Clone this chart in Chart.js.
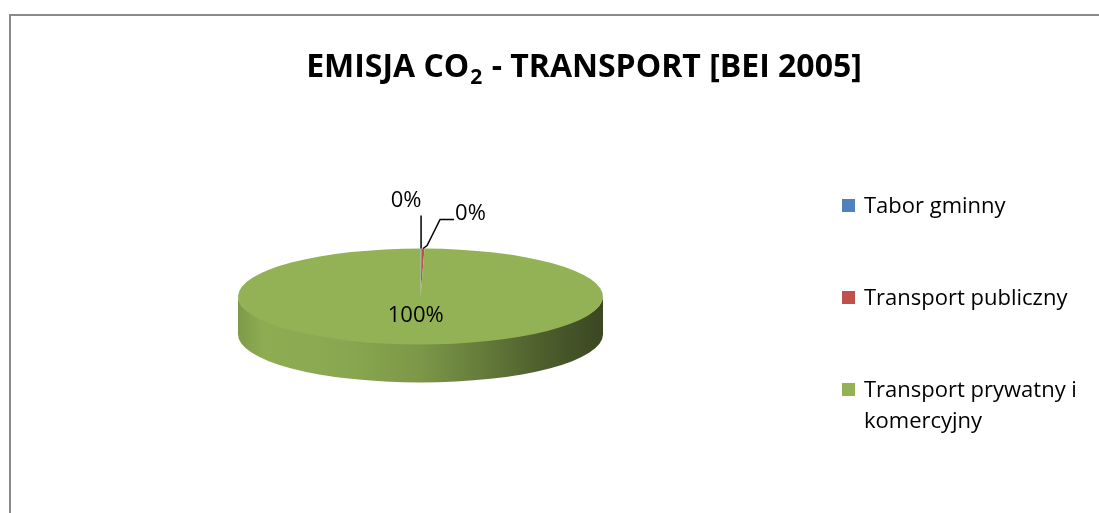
<!DOCTYPE html>
<html>
<head>
<meta charset="utf-8">
<script src="https://cdn.jsdelivr.net/npm/chart.js@4.4.1/dist/chart.umd.min.js"></script>
<style>
  html, body { margin: 0; padding: 0; background: #fff; }
  canvas { display: block; }
</style>
</head>
<body>
<canvas id="wykresCO2" width="1099" height="513"></canvas>
<script>
const kategorie = ['Tabor gminny', 'Transport publiczny', 'Transport prywatny i komercyjny'];
const udzialy = [0.1, 0.25, 99.65];
const kolory = ['#4f81bd', '#c0504d', '#92b255'];
const tytul = ['EMISJA CO', '2', ' - TRANSPORT [BEI 2005]'];

const splaszczenie = 0.263; // ry / rx
const glebokosc = 38;
const czcionka = '"Open Sans", sans-serif';

function cieniuj(hex, f) {
  const n = parseInt(hex.slice(1), 16);
  const r = Math.round(((n >> 16) & 255) * f);
  const g = Math.round(((n >> 8) & 255) * f);
  const b = Math.round((n & 255) * f);
  return `rgb(${r},${g},${b})`;
}

function geometria(chart) {
  const arc = chart.getDatasetMeta(0).data[0];
  return { cx: arc.x, cy: arc.y, r: arc.outerRadius, ry: arc.outerRadius * splaszczenie };
}

// ramka wykresu
const ramka = {
  id: 'ramka',
  beforeDraw(chart) {
    const ctx = chart.ctx;
    ctx.save();
    ctx.fillStyle = '#fff';
    ctx.fillRect(0, 0, chart.width, chart.height);
    ctx.strokeStyle = '#8a8a8a';
    ctx.lineWidth = 2;
    ctx.beginPath();
    ctx.moveTo(10, chart.height);
    ctx.lineTo(10, 15);
    ctx.lineTo(chart.width, 15);
    ctx.stroke();
    ctx.restore();
  }
};

// tytul z indeksem dolnym
const naglowek = {
  id: 'naglowek',
  afterDraw(chart) {
    const ctx = chart.ctx;
    const duza = 'bold 32px ' + czcionka;
    const mala = 'bold 21px ' + czcionka;
    ctx.save();
    ctx.font = duza;
    const w1 = ctx.measureText(tytul[0]).width;
    const w3 = ctx.measureText(tytul[2]).width;
    ctx.font = mala;
    const w2 = ctx.measureText(tytul[1]).width + 2;
    let x = 584 - (w1 + w2 + w3) / 2;
    const y = 77;
    ctx.fillStyle = '#000';
    ctx.textBaseline = 'alphabetic';
    ctx.font = duza;
    ctx.fillText(tytul[0], x, y);
    x += w1 + 1;
    ctx.font = mala;
    ctx.fillText(tytul[1], x, y + 7);
    x += w2 - 1;
    ctx.font = duza;
    ctx.fillText(tytul[2], x, y);
    ctx.restore();
  }
};

// bok 3D i splaszczenie tarczy
const tarcza3d = {
  id: 'tarcza3d',
  beforeDatasetsDraw(chart) {
    const ctx = chart.ctx;
    const { cx, cy, r, ry } = geometria(chart);
    chart.getDatasetMeta(0).data.forEach((arc, i) => {
      const a0 = Math.max(arc.startAngle, 0);
      const a1 = Math.min(arc.endAngle, Math.PI);
      if (a1 <= a0) return;
      const grad = ctx.createLinearGradient(cx - r, 0, cx + r, 0);
      const k = kolory[i];
      grad.addColorStop(0, cieniuj(k, 0.86));
      grad.addColorStop(0.07, cieniuj(k, 0.97));
      grad.addColorStop(0.3, cieniuj(k, 0.94));
      grad.addColorStop(0.5, cieniuj(k, 0.85));
      grad.addColorStop(0.66, cieniuj(k, 0.7));
      grad.addColorStop(0.82, cieniuj(k, 0.54));
      grad.addColorStop(1, cieniuj(k, 0.4));
      ctx.beginPath();
      // gorna krawedz boku lekko pod tarcza, zeby nie bylo szwu
      ctx.ellipse(cx, cy, r, ry - 2, 0, a0, a1);
      ctx.ellipse(cx, cy + glebokosc, r, ry, 0, a1, a0, true);
      ctx.closePath();
      ctx.fillStyle = grad;
      ctx.fill();
    });
    ctx.save();
    ctx.translate(cx, cy);
    ctx.scale(1, splaszczenie);
    ctx.translate(-cx, -cy);
  },
  afterDatasetsDraw(chart) {
    const ctx = chart.ctx;
    ctx.restore();

    // etykiety procentowe
    const { cx, cy, r, ry } = geometria(chart);
    const suma = udzialy.reduce((a, b) => a + b, 0);
    const odnosniki = [
      { pts: [[0, -33]], tx: -15, ty: -15, align: 'center' },
      { pts: [[4, -3], [17, -29], [31, -29]], tx: 1, ty: -6, align: 'left' }
    ];
    ctx.save();
    ctx.font = '22px ' + czcionka;
    ctx.fillStyle = '#000';
    ctx.strokeStyle = '#000';
    ctx.lineWidth = 1.5;
    ctx.textBaseline = 'middle';
    chart.getDatasetMeta(0).data.forEach((arc, i) => {
      const tekst = Math.round(udzialy[i] / suma * 100) + '%';
      const m = (arc.startAngle + arc.endAngle) / 2;
      if (udzialy[i] / suma > 0.05) {
        ctx.textAlign = 'center';
        ctx.fillText(tekst, cx + r * 0.4 * Math.cos(m) - 4, cy + ry * 0.4 * Math.sin(m));
        return;
      }
      const ex = cx + r * Math.cos(m);
      const ey = cy + ry * Math.sin(m);
      const o = odnosniki[i] || odnosniki[0];
      ctx.beginPath();
      ctx.moveTo(ex, ey);
      o.pts.forEach(p => ctx.lineTo(ex + p[0], ey + p[1]));
      ctx.stroke();
      const ost = o.pts[o.pts.length - 1];
      ctx.textAlign = o.align;
      ctx.fillText(tekst, ex + ost[0] + o.tx, ey + ost[1] + o.ty);
    });
    ctx.restore();
  }
};

// legenda po prawej
const legenda = {
  id: 'legenda',
  afterDraw(chart) {
    const ctx = chart.ctx;
    const pozY = [213, 305, 397];
    ctx.save();
    ctx.font = '22px ' + czcionka;
    ctx.textBaseline = 'alphabetic';
    ctx.textAlign = 'left';
    chart.data.labels.forEach((etykieta, i) => {
      const y = pozY[i];
      ctx.fillStyle = chart.data.datasets[0].backgroundColor[i];
      ctx.fillRect(842, y - 14, 13, 13);
      ctx.fillStyle = '#000';
      const slowa = etykieta.split(' ');
      let linia = '';
      let ly = y;
      slowa.forEach(s => {
        const proba = linia ? linia + ' ' + s : s;
        if (ctx.measureText(proba).width > 235 && linia) {
          ctx.fillText(linia, 864, ly);
          ly += 31;
          linia = s;
        } else {
          linia = proba;
        }
      });
      ctx.fillText(linia, 864, ly);
    });
    ctx.restore();
  }
};

const wykres = new Chart(document.getElementById('wykresCO2'), {
  type: 'pie',
  data: {
    labels: kategorie,
    datasets: [{
      data: udzialy,
      backgroundColor: kolory,
      borderWidth: 0
    }]
  },
  options: {
    responsive: false,
    animation: false,
    devicePixelRatio: 1,
    events: [],
    layout: { padding: { left: 238, right: 496, top: 114, bottom: 34 } },
    plugins: {
      legend: { display: false },
      title: { display: false },
      tooltip: { enabled: false }
    }
  },
  plugins: [ramka, tarcza3d, naglowek, legenda]
});
</script>
</body>
</html>
